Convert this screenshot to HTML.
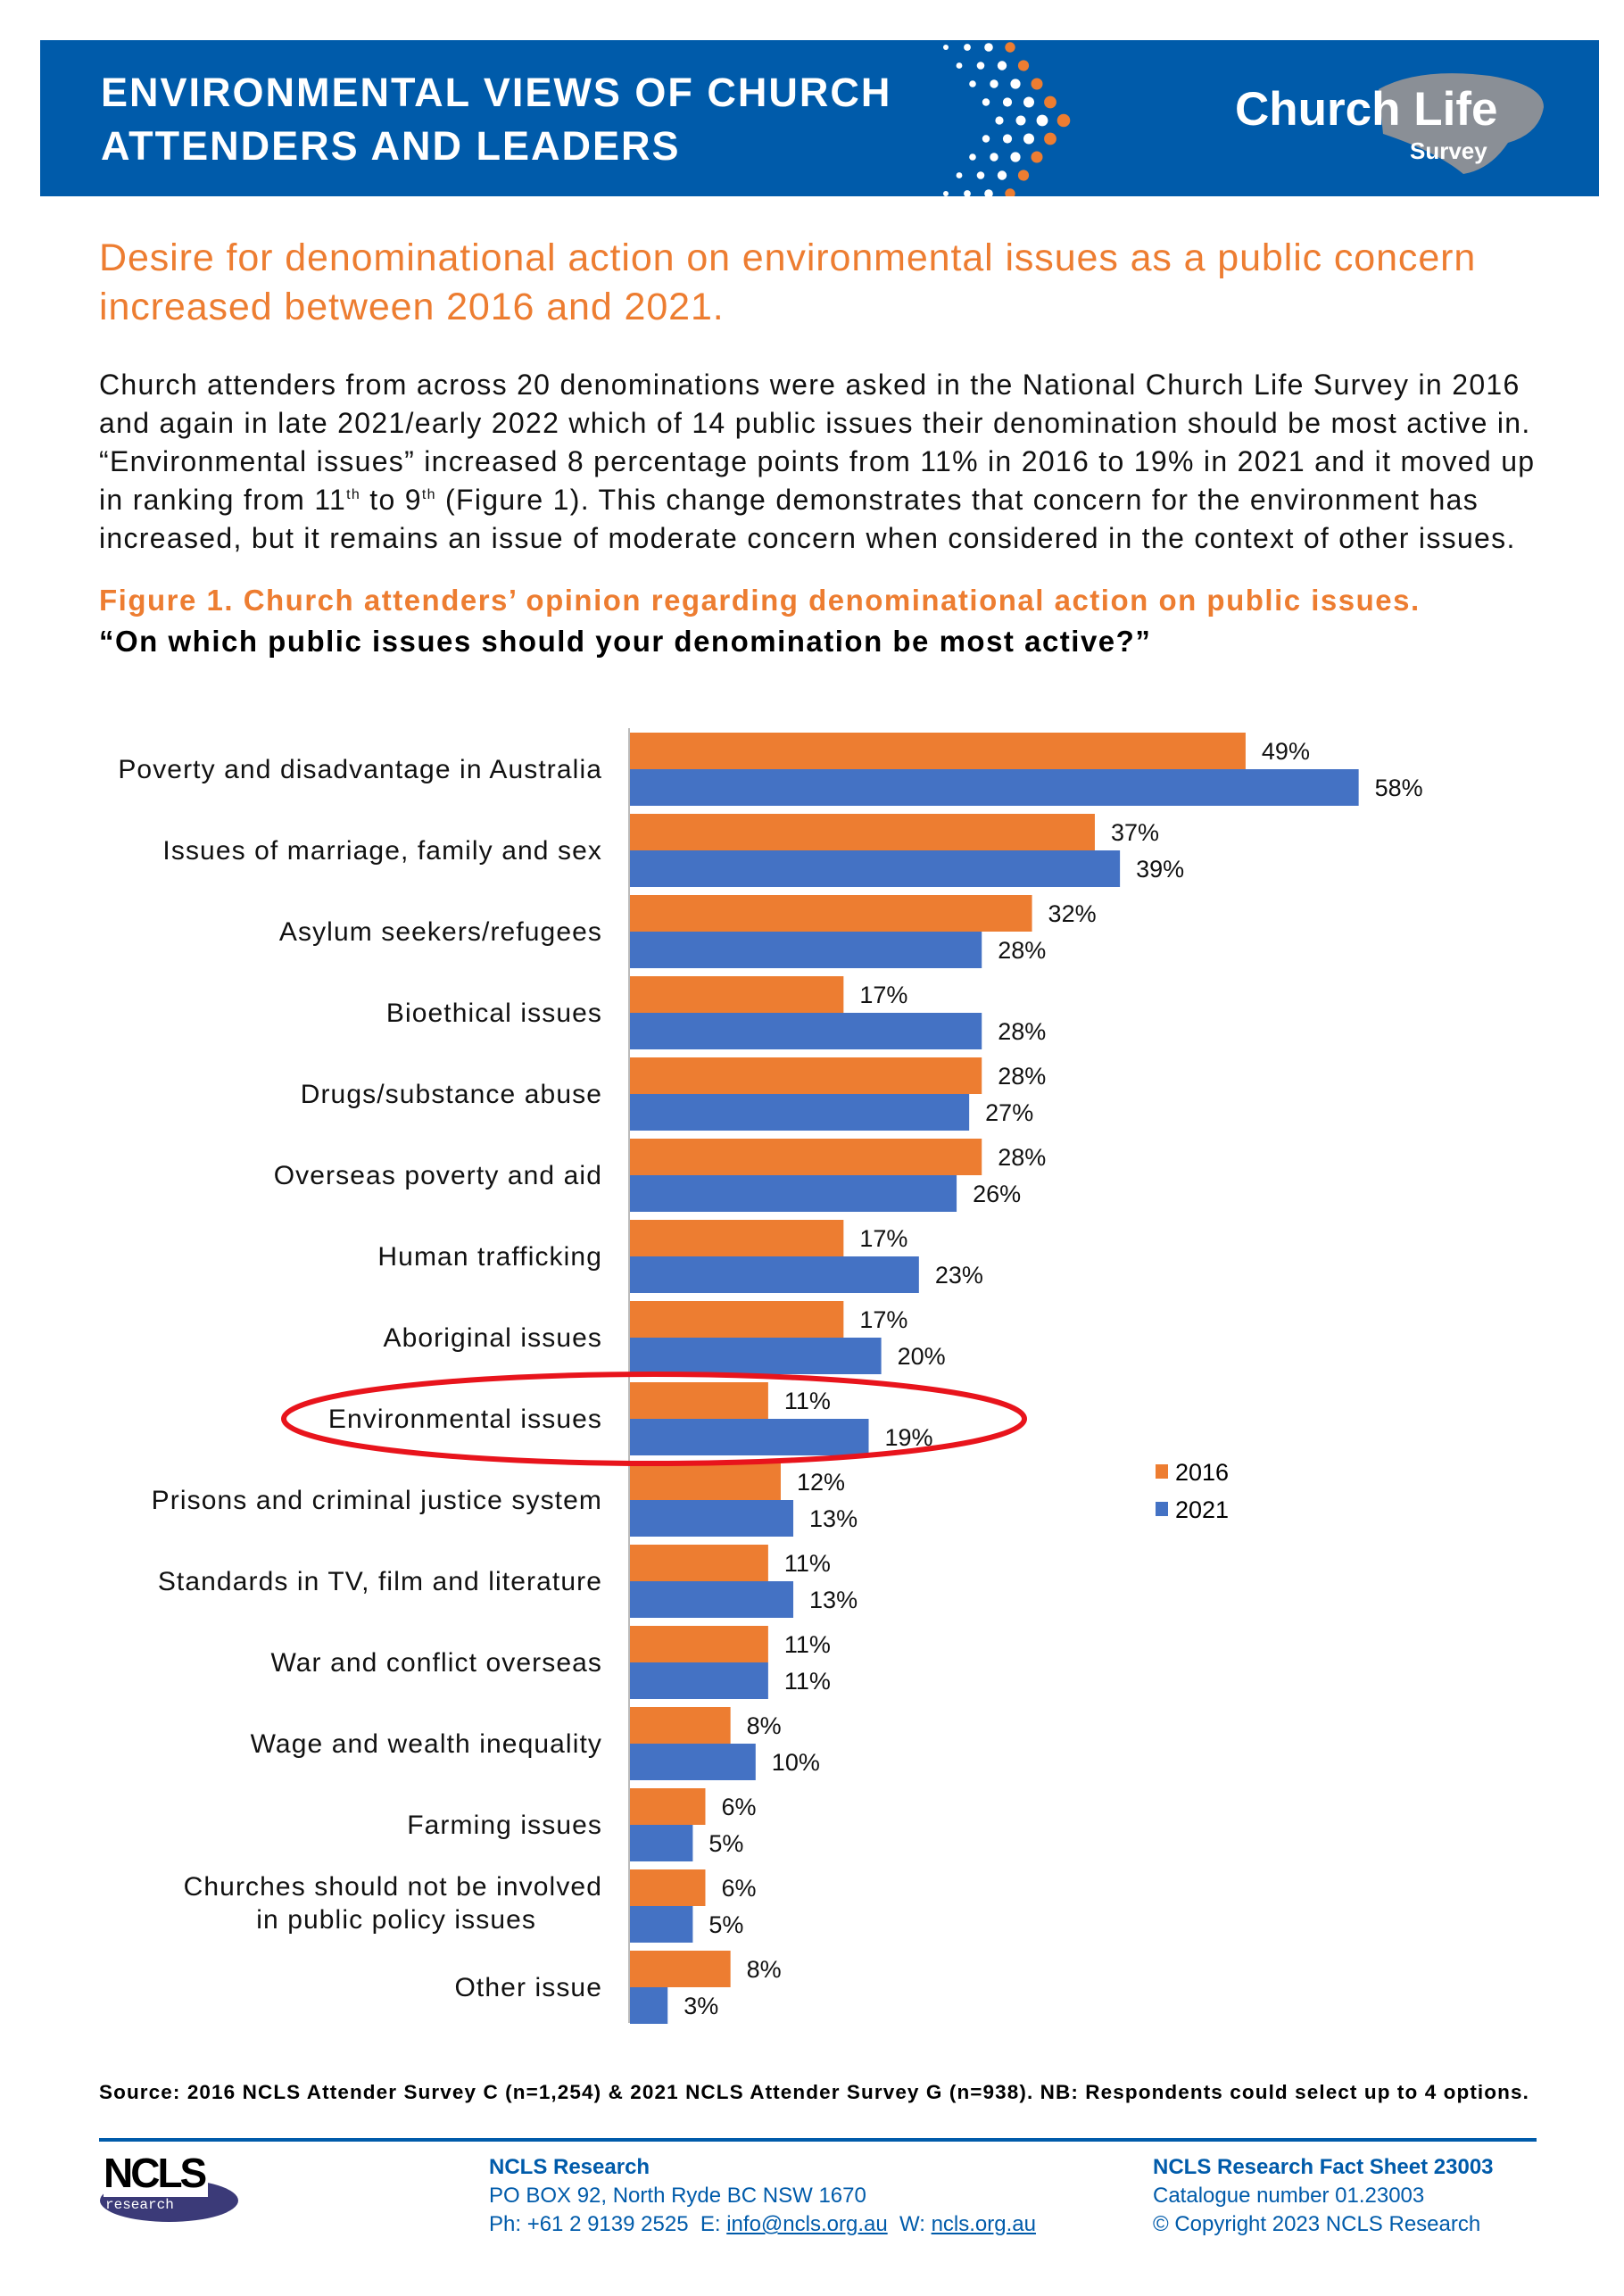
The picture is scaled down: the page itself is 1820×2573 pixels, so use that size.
<!DOCTYPE html>
<html><head><meta charset="utf-8"><style>
body{margin:0;background:#fff;width:1820px;height:2573px;position:relative;font-family:"Liberation Sans",sans-serif;overflow:hidden}
.a{position:absolute;white-space:nowrap}
sup{font-size:16px;line-height:0;vertical-align:12px}
</style></head><body>
<div class="a" style="left:45px;top:45px;width:1747px;height:175px;background:#005BAA"></div>
<div class="a" style="left:113px;top:74px;color:#fff;font-weight:bold;font-size:45px;line-height:60px;letter-spacing:2px">ENVIRONMENTAL VIEWS OF CHURCH<br>ATTENDERS AND LEADERS</div>
<svg class="a" style="left:1040px;top:45px" width="210" height="175" id="dots"></svg>
<svg class="a" style="left:1370px;top:70px" width="370" height="130">
<path d="M175 30 Q220 5 300 15 Q360 25 360 50 Q355 80 320 90 Q300 120 270 125 Q240 100 180 80 Z" fill="#8a8f96"/>
<text x="14" y="70" font-size="53" font-weight="bold" fill="#fff" font-family="Liberation Sans,sans-serif">Church Life</text>
<text x="210" y="108" font-size="26" font-weight="bold" fill="#fff" font-family="Liberation Sans,sans-serif">Survey</text>
</svg>
<div class="a" style="left:111px;top:262px;color:#ED7D31;font-size:43px;line-height:55px;letter-spacing:0.9px">Desire for denominational action on environmental issues as a public concern<br>increased between 2016 and 2021.</div>
<div class="a" style="left:111px;top:410px;color:#111;font-size:32px;line-height:43px;letter-spacing:1.3px">Church attenders from across 20 denominations were asked in the National Church Life Survey in 2016<br>and again in late 2021/early 2022 which of 14 public issues their denomination should be most active in.<br>“Environmental issues” increased 8 percentage points from 11% in 2016 to 19% in 2021 and it moved up<br>in ranking from 11<sup>th</sup> to 9<sup>th</sup> (Figure 1). This change demonstrates that concern for the environment has<br>increased, but it remains an issue of moderate concern when considered in the context of other issues.</div>
<div class="a" style="left:111px;top:650px;color:#ED7D31;font-size:33px;font-weight:bold;line-height:46px;letter-spacing:1.5px">Figure 1. Church attenders’ opinion regarding denominational action on public issues.</div>
<div class="a" style="left:111px;top:696px;color:#000;font-size:33px;font-weight:bold;line-height:46px;letter-spacing:1.5px">“On which public issues should your denomination be most active?”</div>
<svg class="a" style="left:0;top:0" width="1820" height="2573" font-family="Liberation Sans,sans-serif">
<line x1="705" y1="816" x2="705" y2="2267" stroke="#bbb" stroke-width="2"/>
<g font-size="30" fill="#111" text-anchor="end" letter-spacing="1.1">
<text x="675" y="872">Poverty and disadvantage in Australia</text>
<text x="675" y="963">Issues of marriage, family and sex</text>
<text x="675" y="1054">Asylum seekers/refugees</text>
<text x="675" y="1145">Bioethical issues</text>
<text x="675" y="1236">Drugs/substance abuse</text>
<text x="675" y="1327">Overseas poverty and aid</text>
<text x="675" y="1418">Human trafficking</text>
<text x="675" y="1509">Aboriginal issues</text>
<text x="675" y="1600">Environmental issues</text>
<text x="675" y="1691">Prisons and criminal justice system</text>
<text x="675" y="1782">Standards in TV, film and literature</text>
<text x="675" y="1873">War and conflict overseas</text>
<text x="675" y="1964">Wage and wealth inequality</text>
<text x="675" y="2055">Farming issues</text>
<text x="675" y="2124">Churches should not be involved</text>
<text x="601" y="2161">in public policy issues</text>
<text x="675" y="2237">Other issue</text>
</g>
<g id="bars"></g>
<ellipse cx="733" cy="1590" rx="415" ry="50" fill="none" stroke="#e8141c" stroke-width="6"/>
<rect x="1295" y="1641" width="14" height="16" fill="#ED7D31"/><text x="1317" y="1659" font-size="27">2016</text>
<rect x="1295" y="1683" width="14" height="16" fill="#4472C4"/><text x="1317" y="1701" font-size="27">2021</text>
</svg>
<script>
var d=[[49,58],[37,39],[32,28],[17,28],[28,27],[28,26],[17,23],[17,20],[11,19],[12,13],[11,13],[11,11],[8,10],[6,5],[6,5],[8,3]];
var g=document.getElementById('bars'),s='';
d.forEach(function(v,k){var t=821+91*k;
[0,1].forEach(function(j){var w=v[j]*14.08,y=t+41*j;
s+='<rect x="706" y="'+y+'" width="'+w+'" height="41" fill="'+(j?'#4472C4':'#ED7D31')+'"/>';
s+='<text x="'+(706+w+18)+'" y="'+(y+30)+'" font-size="27" fill="#111">'+v[j]+'%</text>';});});
g.innerHTML=s;
var ds='';
for(var r=0;r<9;r++){var y=8+r*20.5;var off=70-Math.abs(r-4)*15;
 for(var c=0;c<4;c++){var x=10+off+c*24;var rad=3+c*0.9+(4-Math.abs(r-4))*0.4;
  ds+='<circle cx="'+x+'" cy="'+y+'" r="'+rad+'" fill="'+(c==3?'#ED7D31':'#fff')+'"/>';}}
document.getElementById('dots').innerHTML=ds;
</script>
<div class="a" style="left:111px;top:2332px;font-size:22.5px;font-weight:bold;color:#000;letter-spacing:1.1px">Source: 2016 NCLS Attender Survey C (n=1,254) &amp; 2021 NCLS Attender Survey G (n=938). NB: Respondents could select up to 4 options.</div>
<div class="a" style="left:111px;top:2396px;width:1611px;height:4px;background:#005BAA"></div>
<div class="a" style="left:112px;top:2412px;width:160px;height:80px">
<div class="a" style="left:0;top:30px;width:155px;height:48px;border-radius:50%;background:#3b3a78"></div>
<div class="a" style="left:4px;top:-4px;font-size:46px;font-weight:bold;color:#000;letter-spacing:-3px;background:#fff;padding-right:4px">NCLS</div>
<div class="a" style="left:6px;top:50px;font-size:16px;color:#fff;font-family:'Liberation Mono',monospace">research</div>
</div>
<div class="a" style="left:548px;top:2413px;color:#005BAA;font-size:24px;line-height:32px"><b>NCLS Research</b><br>PO BOX 92, North Ryde BC NSW 1670<br>Ph: +61 2 9139 2525 &nbsp;E: <u>info@ncls.org.au</u> &nbsp;W: <u>ncls.org.au</u></div>
<div class="a" style="left:1292px;top:2413px;color:#005BAA;font-size:24px;line-height:32px"><b>NCLS Research Fact Sheet 23003</b><br>Catalogue number 01.23003<br>© Copyright 2023 NCLS Research</div>
</body></html>
